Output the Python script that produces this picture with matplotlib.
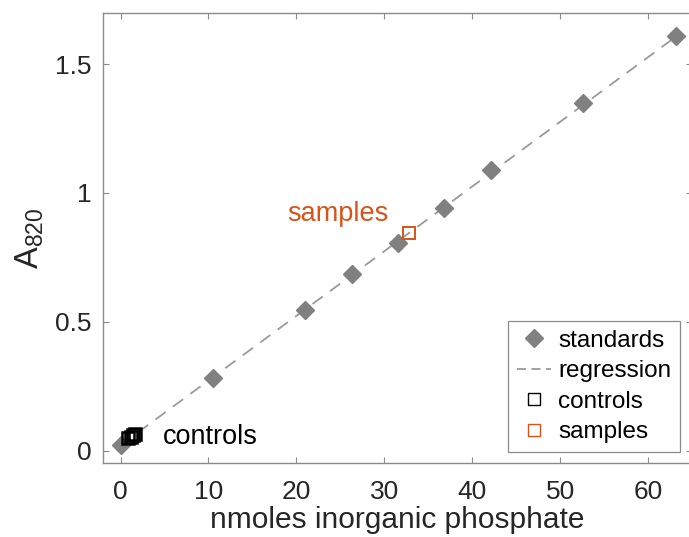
import matplotlib
matplotlib.use("Agg")
import matplotlib.pyplot as plt
from matplotlib.lines import Line2D

plt.rcParams['font.family'] = ['Liberation Sans', 'DejaVu Sans']
plt.rcParams['mathtext.fontset'] = 'custom'
plt.rcParams['mathtext.rm'] = 'Liberation Sans'
plt.rcParams['mathtext.it'] = 'Liberation Sans'

# data
std_x = [0, 10.5, 21.0, 26.3, 31.6, 36.8, 42.1, 52.6, 63.2]
std_y = [0.022, 0.283, 0.547, 0.686, 0.806, 0.942, 1.089, 1.349, 1.609]
reg_x = [0, 63.2]
reg_y = [0.022, 1.607]
ctrl_x = [0.9, 1.15, 1.4, 1.6]
ctrl_y = [0.050, 0.055, 0.060, 0.066]
samp_x = [32.8]
samp_y = [0.845]
xticks = [0, 10, 20, 30, 40, 50, 60]
yticks = [0, 0.5, 1.0, 1.5]
ytick_labels = ['0', '0.5', '1', '1.5']

GRAY_MK = '#808080'
ORANGE = '#D95319'
AX_COL = '#8a8a8a'
TXT = '#262626'

fig = plt.figure(figsize=(6.89, 5.37), dpi=100)
ax = fig.add_axes([103/689, 1 - 463/537, (692 - 103)/689, (463 - 13)/537])

ax.plot(reg_x, reg_y, linestyle=(0, (7, 5)), color='#9a9a9a', lw=1.3, zorder=1)
ax.plot(std_x, std_y, linestyle='none', marker='D', markersize=9,
        color=GRAY_MK, markeredgecolor=GRAY_MK, zorder=2)
ax.plot(ctrl_x, ctrl_y, linestyle='none', marker='s', markersize=8,
        markerfacecolor='none', markeredgecolor='black', mew=1.8, zorder=3)
ax.plot(samp_x, samp_y, linestyle='none', marker='s', markersize=8,
        markerfacecolor='none', markeredgecolor=ORANGE, mew=1.4, zorder=3)

ax.text(4.8, 0.054, 'controls', fontsize=19.5, color='black', ha='left', va='center')
ax.text(18.9, 0.92, 'samples', fontsize=19.5, color=ORANGE, ha='left', va='center')

ax.set_xlim(-2, 65)
ax.set_ylim(-0.047, 1.698)
ax.set_xticks(xticks)
ax.set_yticks(yticks)
ax.set_yticklabels(ytick_labels)
ax.tick_params(direction='in', length=4, width=0.8, color=AX_COL,
               labelsize=19, labelcolor=TXT, top=True, right=True)
ax.tick_params(axis='x', pad=12)
ax.tick_params(axis='y', pad=8)
for s in ax.spines.values():
    s.set_color(AX_COL)
    s.set_linewidth(1.0)

ax.set_xlabel('nmoles inorganic phosphate', fontsize=21.5, color=TXT, labelpad=2)
ax.set_ylabel(r'A$_{820}$', fontsize=23.5, color=TXT, labelpad=7)

handles = [
    Line2D([], [], linestyle='none', marker='D', markersize=9, color=GRAY_MK),
    Line2D([], [], linestyle=(0, (5, 3)), color='#9a9a9a', lw=1.3),
    Line2D([], [], linestyle='none', marker='s', markersize=8,
           markerfacecolor='none', markeredgecolor='black', mew=1.0),
    Line2D([], [], linestyle='none', marker='s', markersize=8,
           markerfacecolor='none', markeredgecolor=ORANGE, mew=1.0),
]
leg = ax.legend(handles, ['standards', 'regression', 'controls', 'samples'],
                loc='lower right', bbox_to_anchor=(0.98, 0.024), borderaxespad=0,
                fontsize=17.5, fancybox=False, framealpha=1, edgecolor=AX_COL,
                handlelength=1.4, handletextpad=0.3, labelspacing=0.35,
                borderpad=0.37)
leg.get_frame().set_linewidth(0.9)

fig.savefig('out.png', dpi=100)
